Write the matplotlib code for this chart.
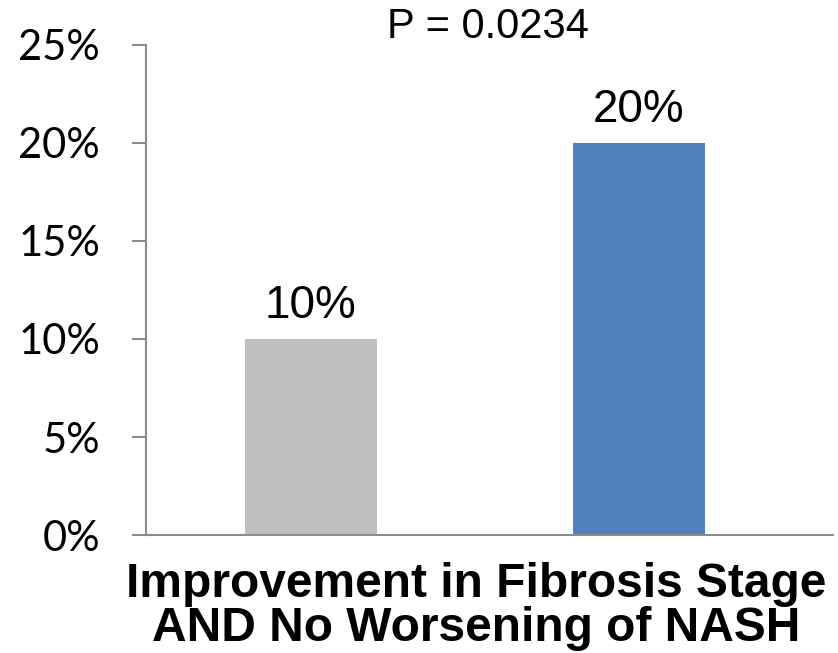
import matplotlib.pyplot as plt
from matplotlib.ticker import FuncFormatter

plt.rcParams['font.family'] = ['Liberation Sans', 'DejaVu Sans']

groups = ["Placebo", "Treatment"]
values = [10, 20]
bar_colors = ["#BFBFBF", "#4F81BD"]
value_labels = ["10%", "20%"]
y_ticks = [0, 5, 10, 15, 20, 25]
p_text = "P = 0.0234"
x_title = "Improvement in Fibrosis Stage\nAND No Worsening of NASH"

fig = plt.figure(figsize=(8.38, 6.53), dpi=100)
ax = fig.add_axes([0.1742, 0.1807, 0.8198, 0.7504])

x = list(range(len(groups)))
ax.bar(x, values, width=0.402, color=bar_colors)

for xi, v, lab in zip(x, values, value_labels):
    ax.text(xi, v + 1.07, lab, ha="center", va="baseline", fontsize=33)

ax.set_xlim(-0.5025, 1.5915)
ax.set_ylim(0, 25)
ax.set_yticks(y_ticks)
ax.yaxis.set_major_formatter(FuncFormatter(lambda v, p: f"{v:.0f}%"))
ax.set_xticks([])

for s in ["top", "right"]:
    ax.spines[s].set_visible(False)
for s in ["left", "bottom"]:
    ax.spines[s].set_color("#8C8C8C")
    ax.spines[s].set_linewidth(1.5)

ax.tick_params(axis="y", length=10, width=1.5, color="#8C8C8C", labelsize=30, pad=23)
for t in ax.get_yticklabels():
    t.set_fontfamily(["Lato", "DejaVu Sans"])

fig.text(0.582, 0.958, p_text, ha="center", va="center", fontsize=30)
ax.set_xlabel(x_title, fontsize=34.5, fontweight="bold", linespacing=0.97)
ax.xaxis.set_label_coords(0.48, -0.055, transform=ax.transAxes)
ax.xaxis.label.set_va("top")

fig.savefig("out.png", dpi=100)
